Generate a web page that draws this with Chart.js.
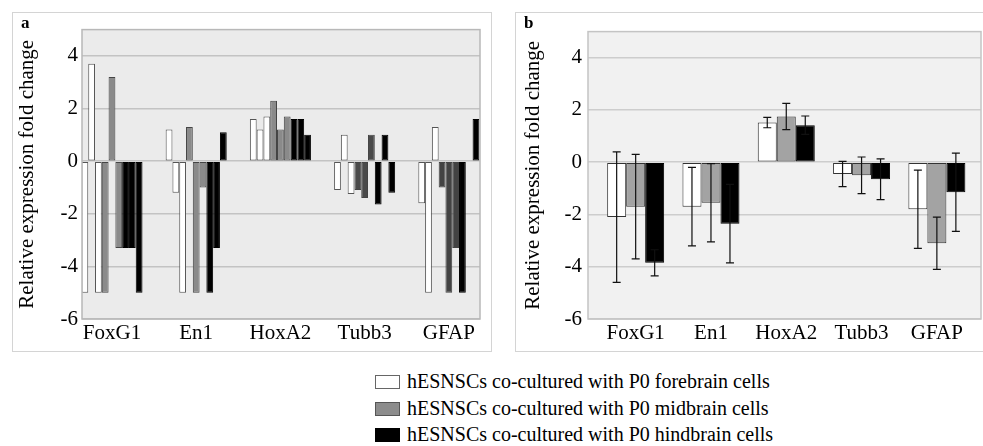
<!DOCTYPE html>
<html>
<head>
<meta charset="utf-8">
<script src="https://cdn.jsdelivr.net/npm/chart.js@4.4.1/dist/chart.umd.min.js"></script>
<style>
  body { margin: 0; background: #fff; width: 983px; height: 446px; overflow: hidden; position: relative; font-family: "Liberation Serif", "Times New Roman", serif; }
  .panel { position: absolute; border: 1px solid #d4d4d4; box-sizing: border-box; }
  .panel canvas { position: absolute; left: 0; top: 0; }
  .tag { position: absolute; font-weight: bold; font-size: 17px; }
  #legend { position: absolute; left: 375px; top: 368px; font-size: 20px; line-height: 26.5px; }
  #legend .sw { display: inline-block; width: 25px; height: 14px; box-sizing: border-box; margin-right: 7px; vertical-align: -1px; }
</style>
</head>
<body>
<div class="panel" style="left:12px;top:12px;width:480px;height:340px;"><canvas id="chartA" width="478" height="338"></canvas></div>
<div class="panel" style="left:515px;top:12px;width:472px;height:340px;"><canvas id="chartB" width="468" height="338"></canvas></div>
<div class="tag" style="left:21px;top:13px;">a</div>
<div class="tag" style="left:524px;top:13px;">b</div>
<div id="legend">
  <div><span class="sw" style="background:#fff;border:1px solid #666;"></span>hESNSCs co-cultured with P0 forebrain cells</div>
  <div><span class="sw" style="background:#8c8c8c;border:1px solid #555;"></span>hESNSCs co-cultured with P0 midbrain cells</div>
  <div><span class="sw" style="background:#000;"></span>hESNSCs co-cultured with P0 hindbrain cells</div>
</div>
<script>
const categories = ['FoxG1', 'En1', 'HoxA2', 'Tubb3', 'GFAP'];
const yTicks = [-6, -4, -2, 0, 2, 4];

// panel a: three samples per co-culture
const aWhite1 = [-5, 1.2, 1.6, -1.1, -1.6];
const aWhite2 = [3.7, -1.2, 1.2, 1.0, -5];
const aWhite3 = [-5, -5, 1.7, -1.25, 1.3];
const aGray1 = [-5, 1.3, 2.3, -1.1, -1.0];
const aGray2 = [3.2, -5, 1.2, -1.4, -5];
const aGray3 = [-3.3, -1.0, 1.7, 1.0, -3.3];
const aBlack1 = [-3.3, -5, 1.6, -1.65, -5];
const aBlack2 = [-3.3, -3.3, 1.6, 1.0, 0];
const aBlack3 = [-5, 1.1, 1.0, -1.2, 1.6];

// panel b: means and error
const bForebrain = [-2.1, -1.7, 1.52, -0.45, -1.8];
const bForebrainErr = [2.5, 1.5, 0.2, 0.48, 1.5];
const bMidbrain = [-1.7, -1.55, 1.75, -0.5, -3.1];
const bMidbrainErr = [2.0, 1.5, 0.5, 0.7, 1.0];
const bHindbrain = [-3.85, -2.35, 1.42, -0.65, -1.15];
const bHindbrainErr = [0.5, 1.5, 0.35, 0.78, 1.5];

const serif = "'Liberation Serif', 'Times New Roman', serif";
const aGrayColors = ['#8a8a8a', '#8a8a8a', '#8a8a8a', '#4a4a4a', '#434343'];

function pts(arr) {
	return arr.map((v, i) => ({x: i, y: v}));
}

const plotFrame = {
	id: 'plotFrame',
	beforeDraw(chart, args, opts) {
		const a = chart.chartArea, ctx = chart.ctx;
		ctx.save();
		ctx.fillStyle = opts.bg;
		ctx.fillRect(a.left, a.top, a.right - a.left, a.bottom - a.top);
		ctx.restore();
	},
	afterDraw(chart, args, opts) {
		const a = chart.chartArea, ctx = chart.ctx;
		ctx.save();
		ctx.strokeStyle = opts.border;
		ctx.lineWidth = 1.5;
		ctx.strokeRect(a.left, a.top, a.right - a.left, a.bottom - a.top);
		ctx.restore();
	}
};

const errorBars = {
	id: 'errorBars',
	afterDatasetsDraw(chart) {
		const ctx = chart.ctx, y = chart.scales.y;
		chart.data.datasets.forEach((ds, di) => {
			if (!ds.errors) return;
			chart.getDatasetMeta(di).data.forEach((bar, i) => {
				const v = ds.data[i].y, e = ds.errors[i];
				const top = y.getPixelForValue(v + e), bot = y.getPixelForValue(v - e);
				ctx.save();
				ctx.strokeStyle = '#111';
				ctx.lineWidth = 1.2;
				ctx.beginPath();
				ctx.moveTo(bar.x, top); ctx.lineTo(bar.x, bot);
				ctx.moveTo(bar.x - 4, top); ctx.lineTo(bar.x + 4, top);
				ctx.moveTo(bar.x - 4, bot); ctx.lineTo(bar.x + 4, bot);
				ctx.stroke();
				ctx.restore();
			});
		});
	}
};

function makeScales(xmin, xmax, yWidth, titlePad, tickPad, gridColor) {
	return {
		x: {
			type: 'linear', min: xmin, max: xmax, offset: false,
			afterBuildTicks: s => { s.ticks = categories.map((c, i) => ({value: i})); },
			afterFit: s => { s.height = 32; },
			grid: {display: false}, border: {display: false},
			ticks: {
				padding: -6, color: '#000', font: {family: serif, size: 21},
				callback: v => categories[v]
			}
		},
		y: {
			min: -6, max: 5,
			afterBuildTicks: s => { s.ticks = []; for (let v = -6; v <= 5; v++) s.ticks.push({value: v}); },
			afterFit: s => { s.width = yWidth; },
			grid: {color: gridColor, lineWidth: 1.5, drawTicks: false}, border: {display: false},
			ticks: {
				padding: tickPad, color: '#000', font: {family: serif, size: 21},
				callback: v => yTicks.includes(v) ? String(v) : ''
			},
			title: {
				display: true, text: 'Relative expression fold change', color: '#000',
				font: {family: serif, size: 21}, padding: {top: titlePad, bottom: 0}
			}
		}
	};
}

function aSet(values, fill, edge) {
	return {data: pts(values), backgroundColor: fill, borderColor: edge, borderWidth: 1, borderSkipped: false};
}

new Chart(document.getElementById('chartA').getContext('2d'), {
	type: 'bar',
	data: {
		datasets: [
			aSet(aWhite1, '#fff', '#555'),
			aSet(aWhite2, '#fff', '#555'),
			aSet(aWhite3, '#fff', '#555'),
			aSet(aGray1, aGrayColors, '#444'),
			aSet(aGray2, aGrayColors, '#444'),
			aSet(aGray3, aGrayColors, '#444'),
			aSet(aBlack1, '#000', '#000'),
			aSet(aBlack2, '#000', '#000'),
			aSet(aBlack3, '#000', '#000')
		]
	},
	options: {
		responsive: false, animation: false, events: [],
		categoryPercentage: 0.725, barPercentage: 1,
		layout: {padding: {left: 0, top: 14, right: 11, bottom: 0}},
		plugins: {legend: {display: false}, tooltip: {enabled: false}, plotFrame: {bg: '#ebebeb', border: '#b8b8b8'}},
		scales: makeScales(-0.356, 4.37, 69, 1.5, 4, '#c3c3c3')
	},
	plugins: [plotFrame]
});

new Chart(document.getElementById('chartB').getContext('2d'), {
	type: 'bar',
	data: {
		datasets: [
			{data: pts(bForebrain), errors: bForebrainErr, backgroundColor: '#fff', borderColor: '#333', borderWidth: 1, borderSkipped: false},
			{data: pts(bMidbrain), errors: bMidbrainErr, backgroundColor: '#a3a3a3', borderColor: '#333', borderWidth: 1, borderSkipped: false},
			{data: pts(bHindbrain), errors: bHindbrainErr, backgroundColor: '#000', borderColor: '#000', borderWidth: 1, borderSkipped: false}
		]
	},
	options: {
		responsive: false, animation: false, events: [],
		categoryPercentage: 0.757, barPercentage: 1,
		layout: {padding: {left: 0, top: 15, right: 3, bottom: 0}},
		plugins: {legend: {display: false}, tooltip: {enabled: false}, plotFrame: {bg: '#f1f1f1', border: '#c4c4c4'}},
		scales: makeScales(-0.633, 4.586, 72, 5, 6, '#cdcdcd')
	},
	plugins: [plotFrame, errorBars]
});
</script>
</body>
</html>
